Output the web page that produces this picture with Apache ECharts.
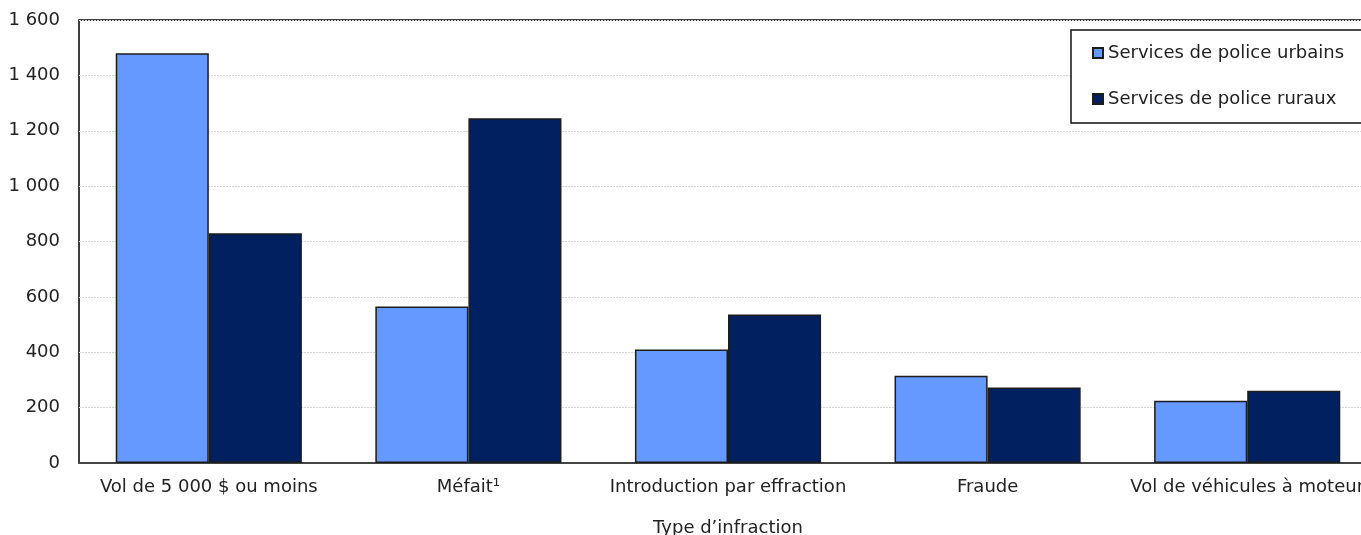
<!DOCTYPE html>
<html lang="fr">
<head>
<meta charset="utf-8">
<title>Type d’infraction</title>
<script src="https://cdn.jsdelivr.net/npm/echarts@6/dist/echarts.min.js"></script>
<style>
  html, body { margin: 0; padding: 0; background: #fff; overflow: hidden; }
  #chart { width: 1361px; height: 535px; }
</style>
</head>
<body>
<div id="chart"></div>
<script>
// Infractions par type, services de police urbains et ruraux
const categories = [
  'Vol de 5 000 $ ou moins',
  'Méfait¹',
  'Introduction par effraction',
  'Fraude',
  'Vol de véhicules à moteur'
];
const urbains = [1480, 565, 410, 315, 225];
const ruraux = [830, 1245, 536, 273, 261];
const seriesNames = ['Services de police urbains', 'Services de police ruraux'];
const axisTitle = 'Type d’infraction';

const FONT = 'DejaVu Sans';
const FONT_SIZE = 18;

// thousands separated by a space: 1 600
function fmt(v) {
  return String(v).replace(/\B(?=(\d{3})+(?!\d))/g, ' ');
}

const chart = echarts.init(document.getElementById('chart'), null, { renderer: 'canvas' });

const barStyle = (color) => ({
  color: color,
  borderColor: '#1c1c1c',
  borderWidth: 1.5
});

chart.setOption({
  animation: false,
  backgroundColor: '#fff',
  textStyle: { fontFamily: FONT },
  // the plot runs a little past the right edge of the page
  grid: {
    left: 79,
    top: 20,
    width: 1298,
    height: 443,
    containLabel: false,
    outerBoundsMode: 'none',
    show: true,
    borderColor: '#000',
    borderWidth: 1.5,
    backgroundColor: 'transparent'
  },
  legend: {
    orient: 'vertical',
    left: 1071,
    top: 30,
    padding: [12, 60, 13, 21],
    itemGap: 24,
    itemWidth: 10,
    itemHeight: 10,
    icon: 'rect',
    backgroundColor: '#fff',
    borderColor: '#111',
    borderWidth: 1.5,
    borderRadius: 0,
    textStyle: { fontFamily: FONT, fontSize: FONT_SIZE, color: '#222', lineHeight: 22 },
    data: seriesNames
  },
  xAxis: {
    type: 'category',
    data: categories,
    axisLine: { show: true, lineStyle: { color: '#444', width: 2 } },
    axisTick: { show: false },
    axisLabel: {
      interval: 0,
      margin: 15,
      fontFamily: FONT,
      fontSize: FONT_SIZE,
      color: '#222',
      hideOverlap: false
    },
    name: axisTitle,
    nameLocation: 'middle',
    nameGap: 56,
    nameTextStyle: { fontFamily: FONT, fontSize: FONT_SIZE, color: '#222' }
  },
  yAxis: {
    type: 'value',
    min: 0,
    max: 1600,
    interval: 200,
    axisLine: { show: false },
    axisTick: { show: false },
    axisLabel: {
      margin: 19,
      fontFamily: FONT,
      fontSize: FONT_SIZE,
      color: '#222',
      formatter: fmt
    },
    splitLine: {
      show: true,
      lineStyle: { color: '#d4d4d4', type: [2, 1], width: 1 }
    }
  },
  series: [
    {
      name: seriesNames[0],
      type: 'bar',
      data: urbains,
      barGap: '0%',
      barCategoryGap: '28.3%',
      itemStyle: barStyle('#6699ff')
    },
    {
      name: seriesNames[1],
      type: 'bar',
      data: ruraux,
      barGap: '0%',
      barCategoryGap: '28.3%',
      itemStyle: barStyle('#00205f')
    }
  ]
});
</script>
</body>
</html>
